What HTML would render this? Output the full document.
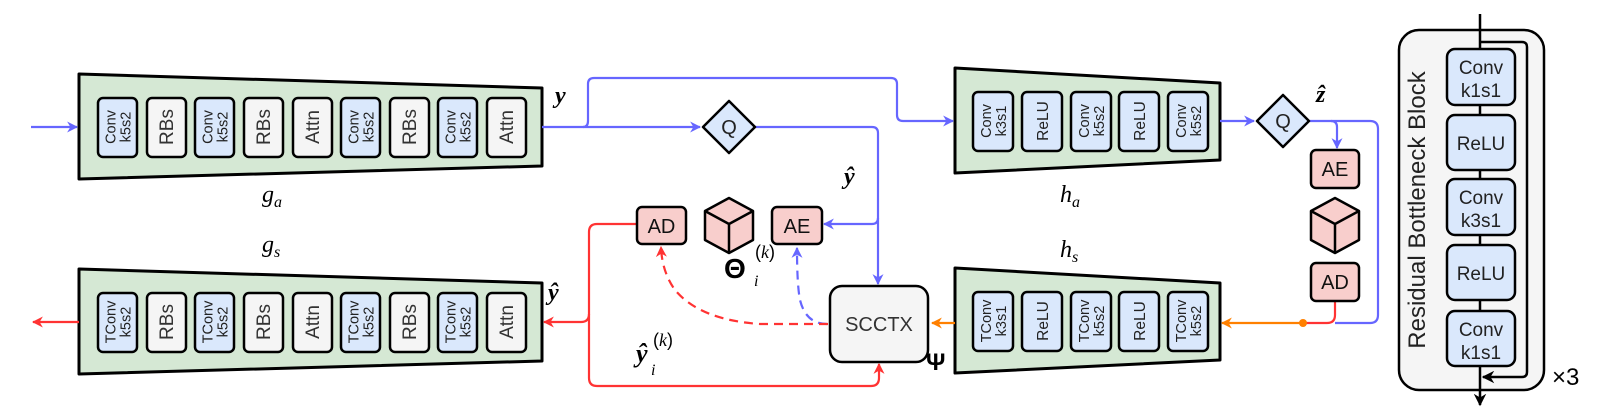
<!DOCTYPE html>
<html><head><meta charset="utf-8"><style>
html,body{margin:0;padding:0;background:#fff;}
svg{display:block;}
text{font-family:"Liberation Sans",sans-serif;}
.m{font-family:"Liberation Serif",serif;font-style:italic;}
</style></head><body>
<svg width="1603" height="419" viewBox="0 0 1603 419" xmlns="http://www.w3.org/2000/svg">
<defs>
<marker id="ab" viewBox="0 0 10 10" refX="9" refY="5" markerWidth="5" markerHeight="5" orient="auto"><path d="M0,0 L10,5 L0,10 L3,5 z" fill="#6666ff"/></marker>
<marker id="ar" viewBox="0 0 10 10" refX="9" refY="5" markerWidth="5" markerHeight="5" orient="auto"><path d="M0,0 L10,5 L0,10 L3,5 z" fill="#ff3333"/></marker>
<marker id="ao" viewBox="0 0 10 10" refX="9" refY="5" markerWidth="5" markerHeight="5" orient="auto"><path d="M0,0 L10,5 L0,10 L3,5 z" fill="#ff8000"/></marker>
<marker id="ak" viewBox="0 0 10 10" refX="9" refY="5" markerWidth="5" markerHeight="5" orient="auto"><path d="M0,0 L10,5 L0,10 L3,5 z" fill="#000"/></marker>
</defs>

<!-- g_a -->
<polygon points="79,74 542,88 542,166 79,179" fill="#d5e8d4" stroke="#000" stroke-width="3" stroke-linejoin="round"/>
<g stroke="#000" stroke-width="2.5">
<rect x="98" y="98" width="39" height="59" rx="5" fill="#dae8fc"/>
<rect x="147" y="98" width="39" height="59" rx="5" fill="#f5f5f5"/>
<rect x="195" y="98" width="39" height="59" rx="5" fill="#dae8fc"/>
<rect x="244" y="98" width="39" height="59" rx="5" fill="#f5f5f5"/>
<rect x="293" y="98" width="39" height="59" rx="5" fill="#f5f5f5"/>
<rect x="341" y="98" width="39" height="59" rx="5" fill="#dae8fc"/>
<rect x="390" y="98" width="39" height="59" rx="5" fill="#f5f5f5"/>
<rect x="438" y="98" width="39" height="59" rx="5" fill="#dae8fc"/>
<rect x="487" y="98" width="39" height="59" rx="5" fill="#f5f5f5"/>
</g>
<g font-size="14.5" text-anchor="middle" fill="#222">
<text transform="translate(117.5,127) rotate(-90)"><tspan x="0" y="-2">Conv</tspan><tspan x="0" y="13">k5s2</tspan></text>
<text transform="translate(214.5,127) rotate(-90)"><tspan x="0" y="-2">Conv</tspan><tspan x="0" y="13">k5s2</tspan></text>
<text transform="translate(360.5,127) rotate(-90)"><tspan x="0" y="-2">Conv</tspan><tspan x="0" y="13">k5s2</tspan></text>
<text transform="translate(457.5,127) rotate(-90)"><tspan x="0" y="-2">Conv</tspan><tspan x="0" y="13">k5s2</tspan></text>
</g>
<g font-size="19" text-anchor="middle" fill="#333">
<text transform="translate(173,127) rotate(-90)">RBs</text>
<text transform="translate(270,127) rotate(-90)">RBs</text>
<text transform="translate(319,127) rotate(-90)">Attn</text>
<text transform="translate(416,127) rotate(-90)">RBs</text>
<text transform="translate(513,127) rotate(-90)">Attn</text>
</g>

<!-- g_s -->
<polygon points="79,269 542,283 542,361 79,374" fill="#d5e8d4" stroke="#000" stroke-width="3" stroke-linejoin="round"/>
<g stroke="#000" stroke-width="2.5">
<rect x="98" y="293" width="39" height="59" rx="5" fill="#dae8fc"/>
<rect x="147" y="293" width="39" height="59" rx="5" fill="#f5f5f5"/>
<rect x="195" y="293" width="39" height="59" rx="5" fill="#dae8fc"/>
<rect x="244" y="293" width="39" height="59" rx="5" fill="#f5f5f5"/>
<rect x="293" y="293" width="39" height="59" rx="5" fill="#f5f5f5"/>
<rect x="341" y="293" width="39" height="59" rx="5" fill="#dae8fc"/>
<rect x="390" y="293" width="39" height="59" rx="5" fill="#f5f5f5"/>
<rect x="438" y="293" width="39" height="59" rx="5" fill="#dae8fc"/>
<rect x="487" y="293" width="39" height="59" rx="5" fill="#f5f5f5"/>
</g>
<g font-size="14.5" text-anchor="middle" fill="#222">
<text transform="translate(117.5,322) rotate(-90)"><tspan x="0" y="-2">TConv</tspan><tspan x="0" y="13">k5s2</tspan></text>
<text transform="translate(214.5,322) rotate(-90)"><tspan x="0" y="-2">TConv</tspan><tspan x="0" y="13">k5s2</tspan></text>
<text transform="translate(360.5,322) rotate(-90)"><tspan x="0" y="-2">TConv</tspan><tspan x="0" y="13">k5s2</tspan></text>
<text transform="translate(457.5,322) rotate(-90)"><tspan x="0" y="-2">TConv</tspan><tspan x="0" y="13">k5s2</tspan></text>
</g>
<g font-size="19" text-anchor="middle" fill="#333">
<text transform="translate(173,322) rotate(-90)">RBs</text>
<text transform="translate(270,322) rotate(-90)">RBs</text>
<text transform="translate(319,322) rotate(-90)">Attn</text>
<text transform="translate(416,322) rotate(-90)">RBs</text>
<text transform="translate(513,322) rotate(-90)">Attn</text>
</g>

<!-- h_a -->
<polygon points="955,68 1220,83 1220,160 955,173" fill="#d5e8d4" stroke="#000" stroke-width="3" stroke-linejoin="round"/>
<g stroke="#000" stroke-width="2.5" fill="#dae8fc">
<rect x="973" y="92" width="40" height="59" rx="5"/>
<rect x="1022" y="92" width="40" height="59" rx="5"/>
<rect x="1071" y="92" width="40" height="59" rx="5"/>
<rect x="1119" y="92" width="40" height="59" rx="5"/>
<rect x="1168" y="92" width="40" height="59" rx="5"/>
</g>
<g font-size="14.5" text-anchor="middle" fill="#222">
<text transform="translate(993,121) rotate(-90)"><tspan x="0" y="-2">Conv</tspan><tspan x="0" y="13">k3s1</tspan></text>
<text transform="translate(1042,121) rotate(-90)" y="6" font-size="15.5">ReLU</text>
<text transform="translate(1091,121) rotate(-90)"><tspan x="0" y="-2">Conv</tspan><tspan x="0" y="13">k5s2</tspan></text>
<text transform="translate(1139,121) rotate(-90)" y="6" font-size="15.5">ReLU</text>
<text transform="translate(1188,121) rotate(-90)"><tspan x="0" y="-2">Conv</tspan><tspan x="0" y="13">k5s2</tspan></text>
</g>

<!-- h_s -->
<polygon points="955,268 1220,283 1220,360 955,373" fill="#d5e8d4" stroke="#000" stroke-width="3" stroke-linejoin="round"/>
<g stroke="#000" stroke-width="2.5" fill="#dae8fc">
<rect x="973" y="292" width="40" height="59" rx="5"/>
<rect x="1022" y="292" width="40" height="59" rx="5"/>
<rect x="1071" y="292" width="40" height="59" rx="5"/>
<rect x="1119" y="292" width="40" height="59" rx="5"/>
<rect x="1168" y="292" width="40" height="59" rx="5"/>
</g>
<g font-size="14.5" text-anchor="middle" fill="#222">
<text transform="translate(993,321) rotate(-90)"><tspan x="0" y="-2">TConv</tspan><tspan x="0" y="13">k3s1</tspan></text>
<text transform="translate(1042,321) rotate(-90)" y="6" font-size="15.5">ReLU</text>
<text transform="translate(1091,321) rotate(-90)"><tspan x="0" y="-2">TConv</tspan><tspan x="0" y="13">k5s2</tspan></text>
<text transform="translate(1139,321) rotate(-90)" y="6" font-size="15.5">ReLU</text>
<text transform="translate(1188,321) rotate(-90)"><tspan x="0" y="-2">TConv</tspan><tspan x="0" y="13">k5s2</tspan></text>
</g>

<!-- blue connectors -->
<g fill="none" stroke="#6666ff" stroke-width="2.2">
<line x1="31" y1="127" x2="77" y2="127" marker-end="url(#ab)"/>
<path d="M542,127 L700,127" marker-end="url(#ab)"/>
<path d="M583,127 Q588,127 588,121 L588,84 Q588,78 594,78 L891,78 Q897,78 897,84 L897,115 Q897,121 903,121 L953,121" marker-end="url(#ab)"/>
<path d="M755,127 L872,127 Q878,127 878,133 L878,284" marker-end="url(#ab)"/>
<path d="M878,218 Q878,224 872,224 L824,224" marker-end="url(#ab)"/>
<line x1="1220" y1="121" x2="1254" y2="121" marker-end="url(#ab)"/>
<path d="M1310,121 L1370,121 Q1378,121 1378,129 L1378,315 Q1378,323 1370,323 L1335,323"/>
<path d="M1331,121 Q1337,121 1337,127 L1337,148" marker-end="url(#ab)"/>
<path d="M827,324 Q806,324 800,300 Q797,285 797,248" stroke-dasharray="9,6" marker-end="url(#ab)"/>
</g>

<!-- red / orange -->
<g fill="none" stroke="#ff3333" stroke-width="2.2">
<line x1="79" y1="322" x2="33" y2="322" marker-end="url(#ar)"/>
<path d="M637,224 L597,224 Q589,224 589,232 L589,314 Q589,322 581,322 L544,322" marker-end="url(#ar)"/>
<path d="M589,314 L589,378 Q589,386 597,386 L871,386 Q879,386 879,378 L879,364" marker-end="url(#ar)"/>
<path d="M828,324 L760,324 Q700,320 675,290 Q662,272 661,247" stroke-dasharray="9,6" marker-end="url(#ar)"/>
<path d="M1335,301 L1335,315 Q1335,323 1327,323 L1303,323"/>
</g>
<line x1="1303" y1="323" x2="1222" y2="323" stroke="#ff8000" stroke-width="2.2" marker-end="url(#ao)"/>
<circle cx="1303" cy="323" r="4" fill="#ff8000"/>
<line x1="955" y1="323" x2="932" y2="323" stroke="#ff8000" stroke-width="2.2" marker-end="url(#ao)"/>

<!-- Q diamonds -->
<g stroke="#000" stroke-width="2.5" fill="#dae8fc" stroke-linejoin="round">
<polygon points="729,101 755,127 729,153 703,127"/>
<polygon points="1283,95 1309,121 1283,147 1257,121"/>
</g>
<text x="729" y="134" font-size="20" text-anchor="middle" fill="#222">Q</text>
<text x="1283" y="128" font-size="20" text-anchor="middle" fill="#222">Q</text>

<!-- AD/AE boxes -->
<g stroke="#000" stroke-width="2.5" fill="#f8cecc">
<rect x="637" y="207" width="49" height="37" rx="5"/>
<rect x="772" y="207" width="50" height="37" rx="5"/>
<rect x="1311" y="150" width="48" height="38" rx="5"/>
<rect x="1311" y="263" width="48" height="38" rx="5"/>
</g>
<g font-size="20" text-anchor="middle" fill="#111">
<text x="661.5" y="233">AD</text>
<text x="797" y="233">AE</text>
<text x="1335" y="176">AE</text>
<text x="1335" y="289">AD</text>
</g>

<!-- cubes -->
<g stroke="#000" stroke-width="2.5" fill="#f8cecc" stroke-linejoin="round">
<path d="M729,198 L753,211 L753,240 L729,253 L705,240 L705,211 Z"/>
<path d="M705,211 L729,224 L753,211 M729,224 L729,253" fill="none"/>
<path d="M1335,198 L1359,211 L1359,240 L1335,253 L1311,240 L1311,211 Z"/>
<path d="M1311,211 L1335,224 L1359,211 M1335,224 L1335,253" fill="none"/>
</g>

<!-- SCCTX -->
<rect x="830" y="286" width="98" height="76" rx="12" fill="#f5f5f5" stroke="#000" stroke-width="2.5"/>
<text x="879" y="331" font-size="20" text-anchor="middle" fill="#333">SCCTX</text>

<!-- math labels -->
<g font-size="24" fill="#000">
<text x="555" y="103" class="m" font-weight="bold">y</text>
<text x="844" y="184" class="m" font-weight="bold">ŷ</text>
<text x="548" y="300" class="m" font-weight="bold">ŷ</text>
<text x="1316" y="102" class="m" font-weight="bold">ẑ</text>
<text x="636" y="362" class="m" font-weight="bold" font-size="26">ŷ</text>
<text x="651" y="375" class="m" font-size="16">i</text>
<text x="653" y="346" font-size="18" font-family="Liberation Serif">(<tspan class="m">k</tspan>)</text>
<text x="724" y="278" font-family="DejaVu Serif" font-weight="bold" font-size="28">Θ</text>
<text x="754" y="286" class="m" font-size="16">i</text>
<text x="755" y="258" font-size="18" font-family="Liberation Serif">(<tspan class="m">k</tspan>)</text>
<text x="926" y="370" font-family="DejaVu Serif" font-weight="bold" font-size="24">Ψ</text>
<text x="262" y="202" class="m">g<tspan font-size="16" dy="5">a</tspan></text>
<text x="262" y="252" class="m">g<tspan font-size="16" dy="5">s</tspan></text>
<text x="1060" y="202" class="m">h<tspan font-size="16" dy="5">a</tspan></text>
<text x="1060" y="257" class="m">h<tspan font-size="16" dy="5">s</tspan></text>
<text x="1552" y="385" font-family="Liberation Serif" font-size="24">×3</text>
</g>

<!-- Residual Bottleneck Block -->
<rect x="1399" y="30" width="145" height="360" rx="20" fill="#f5f5f5" stroke="#000" stroke-width="2.5"/>
<line x1="1480" y1="14" x2="1480" y2="405" stroke="#000" stroke-width="2.5" marker-end="url(#ak)"/>
<path d="M1480,42 L1522,42 Q1527,42 1527,47 L1527,372 Q1527,377 1522,377 L1483,377" fill="none" stroke="#000" stroke-width="2.5" marker-end="url(#ak)"/>
<g stroke="#000" stroke-width="2.5" fill="#dae8fc">
<rect x="1447" y="49" width="68" height="56" rx="8"/>
<rect x="1447" y="115" width="68" height="55" rx="8"/>
<rect x="1447" y="179" width="68" height="56" rx="8"/>
<rect x="1447" y="245" width="68" height="55" rx="8"/>
<rect x="1447" y="311" width="68" height="55" rx="8"/>
</g>
<g font-size="19" text-anchor="middle" fill="#222">
<text x="1481" y="74">Conv</text><text x="1481" y="97">k1s1</text>
<text x="1481" y="150">ReLU</text>
<text x="1481" y="204">Conv</text><text x="1481" y="227">k3s1</text>
<text x="1481" y="280">ReLU</text>
<text x="1481" y="336">Conv</text><text x="1481" y="359">k1s1</text>
</g>
<text transform="translate(1425,210) rotate(-90)" font-size="24" text-anchor="middle" fill="#222">Residual Bottleneck Block</text>
</svg>
</body></html>
